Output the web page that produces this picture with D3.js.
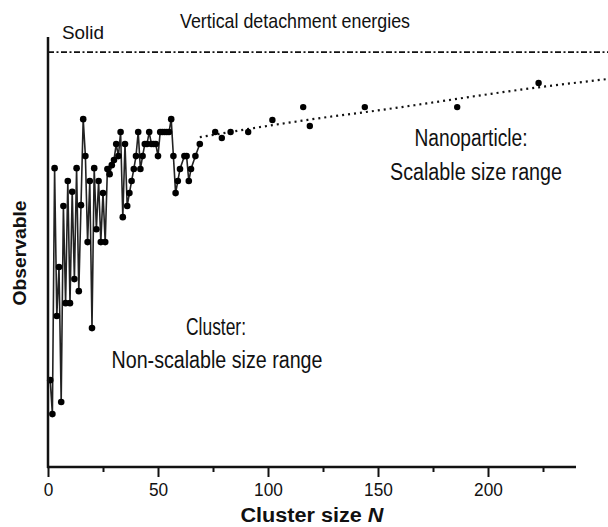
<!DOCTYPE html>
<html><head><meta charset="utf-8">
<script src="https://cdn.jsdelivr.net/npm/d3@7"></script>
<style>
html,body{margin:0;padding:0;background:#fff;}
svg{display:block;}
.t{font-family:'Liberation Sans Narrow','Liberation Sans',Arial,sans-serif;fill:#111;}
.b{font-family:'Liberation Sans',Arial,sans-serif;font-weight:bold;fill:#111;}
</style></head><body>
<svg id="c" width="608" height="527"></svg>
<script>
// Cluster region (connected data)
const clusterN = [1,2,3,4,5,6,7,8,9,10,11,12,13,14,15,16,17,18,19,20,21,22,23,24,25,26,27,28,29,30,31,32,33,34,35,36,37,38,39,40,41,42,43,44,45,46,47,48,49,50,51,52,53,54,55,56,57,58,59,60,62,63,64,65,67,69];
const clusterVal = [20.2,12.3,69.5,35.1,46.5,15.1,60.7,38.1,66.5,38.1,64.0,43.7,69.5,40.9,60.9,80.9,72.3,52.3,66.5,32.3,69.5,55.3,66.5,52.3,63.7,52.3,69.3,68.1,70.2,71.4,75.1,72.3,77.9,58.1,75.1,60.7,63.7,66.5,69.3,72.3,77.9,69.3,72.3,75.1,75.1,77.9,75.1,75.1,75.1,72.3,77.9,77.9,77.9,77.9,77.9,80.9,72.3,63.7,66.5,69.3,72.3,72.3,66.5,69.3,72.3,75.1];
// Nanoparticle region (isolated points)
const nanoN = [76,79,83,91,102,116,119,144,186,223];
const nanoVal = [77.9,76.5,77.9,77.9,80.7,83.7,79.3,83.7,83.7,89.3];
// Scalable trend (dotted guide)
const trendN = [69,102,119,151,223,254];
const trendVal = [76.7,79.5,80.8,83.0,88.3,90.2];
// Solid limit
const solidVal = 96.5;
const xTicks = [0,50,100,150,200];
const xMinorTicks = [25,75,125,175,225];

const svg = d3.select("#c");
const x = d3.scaleLinear().domain([0,240]).range([48,576]);
const y = d3.scaleLinear().domain([0,100]).range([467,37]);

// solid limit dash-dot line
svg.append("line").attr("x1",x(0)).attr("x2",608).attr("y1",y(solidVal)).attr("y2",y(solidVal))
  .attr("stroke","#111").attr("stroke-width",1.8).attr("stroke-dasharray","6,2.5,2,2.5");

// trend dotted line
svg.append("path").datum(trendN.map((n,i)=>[n,trendVal[i]]))
  .attr("d",d3.line().x(d=>x(d[0])).y(d=>y(d[1])).curve(d3.curveMonotoneX))
  .attr("fill","none").attr("stroke","#111").attr("stroke-width",2.2).attr("stroke-dasharray","2,4");

// connected cluster line
const cData = clusterN.map((n,i)=>[n,clusterVal[i]]);
svg.append("path").datum(cData)
  .attr("d",d3.line().x(d=>x(d[0])).y(d=>y(d[1])))
  .attr("fill","none").attr("stroke","#222").attr("stroke-width",1.6);
svg.append("g").selectAll("circle").data(cData).join("circle")
  .attr("cx",d=>x(d[0])).attr("cy",d=>y(d[1])).attr("r",3.3).attr("fill","#000");
svg.append("g").selectAll("circle").data(nanoN.map((n,i)=>[n,nanoVal[i]])).join("circle")
  .attr("cx",d=>x(d[0])).attr("cy",d=>y(d[1])).attr("r",3.2).attr("fill","#000");

// axes
const xa = svg.append("g").attr("transform",`translate(0,${y(0)})`);
xa.call(d3.axisBottom(x).tickValues(xTicks).tickSize(10).tickPadding(6).tickFormat(d3.format("d")));
xa.append("g").call(d3.axisBottom(x).tickValues(xMinorTicks).tickSize(5).tickFormat(""));
xa.selectAll(".domain").remove();
xa.selectAll(".tick line").attr("stroke","#111").attr("stroke-width",2);
xa.selectAll(".tick text").attr("class","t").style("font-size","19px").attr("fill","#111")
  .attr("textLength",d=>String(d).length*9.6).attr("lengthAdjust","spacingAndGlyphs");
svg.append("line").attr("x1",x(0)-1).attr("x2",x(240)).attr("y1",y(0)).attr("y2",y(0)).attr("stroke","#111").attr("stroke-width",2.5);
svg.append("line").attr("x1",x(0)).attr("x2",x(0)).attr("y1",y(0)+1).attr("y2",y(100)).attr("stroke","#111").attr("stroke-width",2.5);

// texts
const T=(s,xx,yy,size,w)=>svg.append("text").attr("class","t").attr("x",xx).attr("y",yy).attr("text-anchor","middle").style("font-size",size+"px")
  .attr("textLength",w).attr("lengthAdjust","spacingAndGlyphs").text(s);
T("Vertical detachment energies",295,28,21,230);
T("Solid",83,39,18,42);
T("Nanoparticle:",471,146,23,113);
T("Scalable size range",476,180,23,172);
T("Cluster:",216,335,23,60);
T("Non-scalable size range",217,368,23,211);
svg.append("text").attr("class","b").attr("transform","translate(26,253) rotate(-90)").attr("text-anchor","middle").style("font-size","18px")
  .attr("textLength",105).attr("lengthAdjust","spacingAndGlyphs").text("Observable");
const xt = svg.append("text").attr("class","b").attr("x",312).attr("y",522).attr("text-anchor","middle").style("font-size","20px")
  .attr("textLength",143).attr("lengthAdjust","spacingAndGlyphs");
xt.append("tspan").text("Cluster size ");
xt.append("tspan").style("font-style","italic").text("N");
</script></body></html>
